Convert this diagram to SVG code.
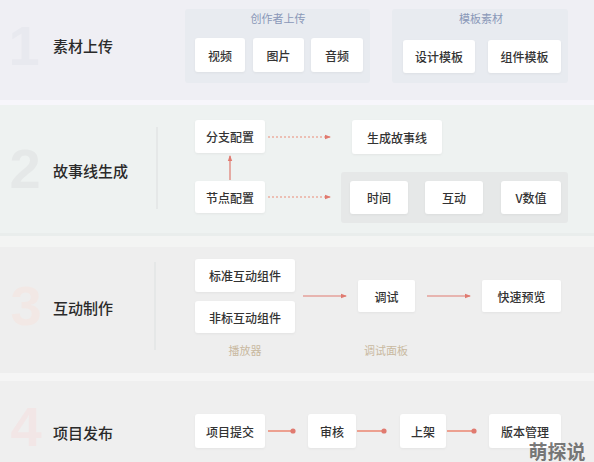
<svg xmlns="http://www.w3.org/2000/svg" width="594" height="462" viewBox="0 0 594 462">
<defs>
<filter id="sh" x="-10%" y="-10%" width="120%" height="130%"><feDropShadow dx="0" dy="1" stdDeviation="1" flood-color="#000" flood-opacity="0.05"/></filter>
<marker id="ah" viewBox="0 0 6 6" refX="5" refY="3" markerWidth="5" markerHeight="5" orient="auto"><path d="M0,0.8 L6,3 L0,5.2 Z" fill="#e07a70"/></marker>
<marker id="ad" viewBox="0 0 6 6" refX="3" refY="3" markerWidth="3" markerHeight="3" orient="auto"><circle cx="3" cy="3" r="2.6" fill="#e07a70"/></marker>
</defs>
<style>
.box{fill:#ffffff;filter:url(#sh)}
.t{font-family:"Noto Sans CJK SC","Noto Sans",sans-serif;font-size:12px;fill:#333;text-anchor:middle;dominant-baseline:central;font-weight:500}
.lbl{font-family:"Noto Sans CJK SC","Noto Sans",sans-serif;font-size:15px;fill:#2a2a2a;dominant-baseline:central;font-weight:500}
.num{font-family:"Liberation Sans","Noto Sans",sans-serif;font-size:56px;font-weight:bold;text-anchor:middle;dominant-baseline:central}
.gt{font-family:"Noto Sans CJK SC","Noto Sans",sans-serif;font-size:11px;text-anchor:middle;dominant-baseline:central}
.grp{fill:#e8ebf0}
.div{stroke:#e2e4e4;stroke-width:1.5}
.dash{stroke:#e98c78;stroke-width:1.2;stroke-dasharray:2 2;fill:none}
.sol{stroke:#e07a70;stroke-width:1.2;fill:none}
.sol2{stroke:#eca090;stroke-width:2;fill:none}
</style>
<!-- backgrounds -->
<rect x="0" y="0" width="594" height="462" fill="#efefef"/>
<rect x="0" y="0" width="594" height="100" fill="#efeff4"/>
<rect x="0" y="100" width="594" height="5" fill="#f7f6fb"/>
<rect x="0" y="105" width="594" height="128" fill="#eef2f1"/>
<rect x="0" y="233" width="594" height="3" fill="#e9edec"/>
<rect x="0" y="236" width="594" height="11" fill="#f3f4f3"/>
<rect x="0" y="247" width="594" height="126" fill="#eeeeee"/>
<rect x="0" y="373" width="594" height="8" fill="#f5f5f5"/>
<rect x="0" y="381" width="594" height="81" fill="#efefef"/>

<!-- stage 1 -->
<g id="stage1">
<text class="num" x="24" y="45" fill="#e8e9ef">1</text>
<text class="lbl" x="53" y="45">素材上传</text>
<g id="grp-creator">
<rect class="grp" x="185" y="9" width="185" height="74" rx="3"/>
<text class="gt" x="278" y="18" fill="#8a98b8">创作者上传</text>
</g>
<g id="grp-template">
<rect class="grp" x="392" y="9" width="176" height="74" rx="3"/>
<text class="gt" x="481" y="18" fill="#8a98b8">模板素材</text>
</g>
<g id="n-video"><rect class="box" x="195" y="38" width="50" height="34" rx="3"/><text class="t" x="220" y="55">视频</text></g>
<g id="n-image"><rect class="box" x="253" y="38" width="51" height="34" rx="3"/><text class="t" x="278.500" y="55">图片</text></g>
<g id="n-audio"><rect class="box" x="311" y="38" width="52" height="34" rx="3"/><text class="t" x="337" y="55">音频</text></g>
<g id="n-design"><rect class="box" x="403" y="40" width="72" height="33" rx="3"/><text class="t" x="439" y="56.500">设计模板</text></g>
<g id="n-comp"><rect class="box" x="488" y="40" width="73" height="33" rx="3"/><text class="t" x="524.500" y="56.500">组件模板</text></g>
</g>

<!-- stage 2 -->
<g id="stage2">
<text class="num" x="25" y="168" fill="#e5e8e8">2</text>
<text class="lbl" x="53" y="170">故事线生成</text>
<line class="div" x1="157" y1="127" x2="157" y2="209"/>
<rect fill="#e6e8e8" x="341" y="172" width="227" height="51" rx="3"/>
<g id="n-branch"><rect class="box" x="195" y="120" width="70" height="33" rx="3"/><text class="t" x="230" y="136.500">分支配置</text></g>
<g id="n-node"><rect class="box" x="195" y="181" width="70" height="32" rx="3"/><text class="t" x="230" y="197">节点配置</text></g>
<g id="n-story"><rect class="box" x="352" y="120" width="90" height="34" rx="3"/><text class="t" x="397" y="137">生成故事线</text></g>
<g id="n-time"><rect class="box" x="350" y="181" width="58" height="33" rx="3"/><text class="t" x="379" y="197.500">时间</text></g>
<g id="n-inter"><rect class="box" x="425" y="181" width="58" height="33" rx="3"/><text class="t" x="454" y="197.500">互动</text></g>
<g id="n-v"><rect class="box" x="501" y="181" width="60" height="33" rx="3"/><text class="t" x="531" y="197.500">V数值</text></g>
</g>

<!-- stage 3 -->
<g id="stage3">
<text class="num" x="26" y="305" fill="#f2e8e5">3</text>
<text class="lbl" x="53" y="307">互动制作</text>
<line class="div" x1="155" y1="262" x2="155" y2="350" stroke="#e6e6e6"/>
<g id="n-std"><rect class="box" x="195" y="259" width="100" height="33" rx="3"/><text class="t" x="245" y="275.500">标准互动组件</text></g>
<g id="n-nstd"><rect class="box" x="195" y="301" width="100" height="32" rx="3"/><text class="t" x="245" y="317">非标互动组件</text></g>
<text class="gt" x="245" y="350" fill="#c9b9a0">播放器</text>
<g id="n-debug"><rect class="box" x="358" y="280" width="57" height="32" rx="2"/><text class="t" x="386.500" y="296">调试</text></g>
<text class="gt" x="386" y="350" fill="#c9b9a0">调试面板</text>
<g id="n-preview"><rect class="box" x="482" y="280" width="79" height="32" rx="2"/><text class="t" x="521.500" y="296">快速预览</text></g>
</g>

<!-- stage 4 -->
<g id="stage4">
<text class="num" x="26" y="426" fill="#f2e6e6">4</text>
<text class="lbl" x="53" y="432">项目发布</text>
<g id="n-submit"><rect class="box" x="195" y="414" width="70" height="34" rx="3"/><text class="t" x="230" y="431">项目提交</text></g>
<g id="n-review"><rect class="box" x="308" y="414" width="48" height="34" rx="3"/><text class="t" x="332" y="431">审核</text></g>
<g id="n-shelf"><rect class="box" x="400" y="414" width="46" height="34" rx="3"/><text class="t" x="423" y="431">上架</text></g>
<g id="n-version"><rect class="box" x="489" y="414" width="72" height="34" rx="3"/><text class="t" x="525" y="431">版本管理</text></g>
</g>

<!-- connectors -->
<g id="connectors">
<line class="sol" x1="230" y1="180" x2="230" y2="156" marker-end="url(#ah)"/>
<line class="dash" x1="268" y1="137" x2="330" y2="137" marker-end="url(#ah)"/>
<line class="dash" x1="268" y1="197" x2="330" y2="197" marker-end="url(#ah)"/>
<line class="sol" x1="303" y1="296" x2="346" y2="296" marker-end="url(#ah)"/>
<line class="sol" x1="427" y1="296" x2="470" y2="296" marker-end="url(#ah)"/>
<line class="sol2" x1="268" y1="431" x2="293" y2="431" marker-end="url(#ad)"/>
<line class="sol2" x1="357" y1="431" x2="384" y2="431" marker-end="url(#ad)"/>
<line class="sol2" x1="447" y1="431" x2="474" y2="431" marker-end="url(#ad)"/>
</g>

<text x="557" y="450" font-family="Noto Sans CJK SC,sans-serif" font-size="19" font-weight="bold" fill="#555" fill-opacity="0.8" text-anchor="middle" dominant-baseline="central">萌探说</text>
</svg>
